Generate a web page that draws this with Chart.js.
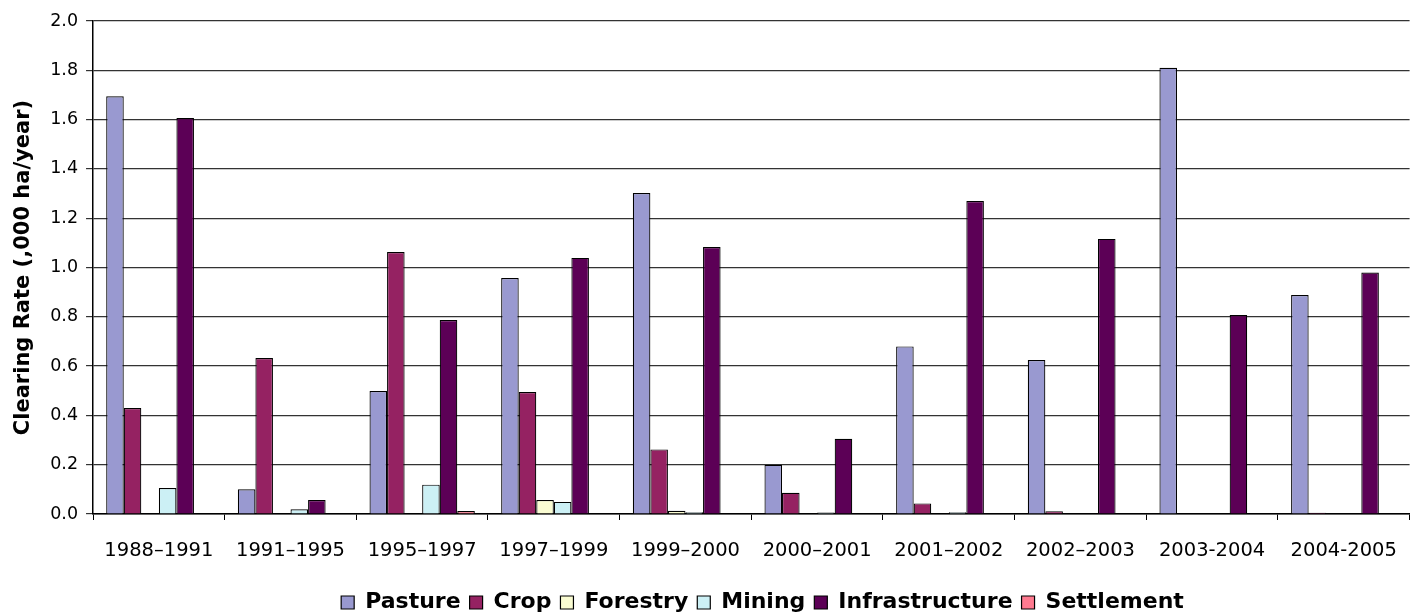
<!DOCTYPE html>
<html>
<head>
<meta charset="utf-8">
<script src="https://cdn.jsdelivr.net/npm/chart.js@4/dist/chart.umd.min.js"></script>
<style>
  html, body { margin: 0; padding: 0; background: #fff; }
  #wrap { width: 1416px; height: 612px; }
</style>
</head>
<body>
<div id="wrap"><canvas id="c"></canvas></div>
<script>
// Land clearing rate by period and land use (,000 ha/year)
const periods = ['1988–1991', '1991–1995', '1995–1997', '1997–1999', '1999–2000',
  '2000–2001', '2001–2002', '2002–2003', '2003-2004', '2004-2005'];

const pasture        = [1.695, 0.100, 0.499, 0.957, 1.302, 0.200, 0.680, 0.625, 1.810, 0.888];
const crop           = [0.430, 0.633, 1.063, 0.495, 0.262, 0.086, 0.043, 0.011, 0, 0.005];
const forestry       = [0, 0, 0, 0.057, 0.013, 0, 0, 0, 0, 0];
const mining         = [0.105, 0.019, 0.119, 0.049, 0.007, 0.006, 0.007, 0, 0, 0];
const infrastructure = [1.606, 0.057, 0.787, 1.039, 1.083, 0.305, 1.270, 1.116, 0.807, 0.980];
const settlement     = [0, 0, 0.012, 0, 0, 0, 0, 0, 0, 0];

const yTicks = [0, 0.2, 0.4, 0.6, 0.8, 1.0, 1.2, 1.4, 1.6, 1.8, 2.0];

// wide sans to match the stretched lettering of the original
const FONT = '"DejaVu Sans", Verdana, sans-serif';

const series = [
  { label: 'Pasture', data: pasture, color: '#9999D0' },
  { label: 'Crop', data: crop, color: '#952262' },
  { label: 'Forestry', data: forestry, color: '#FAFCD2' },
  { label: 'Mining', data: mining, color: '#CCF0F5' },
  { label: 'Infrastructure', data: infrastructure, color: '#5C0056' },
  { label: 'Settlement', data: settlement, color: '#FF7A90' },
];

// legend in the original sits centred under the plot, not the canvas
const shiftLegend = {
  id: 'shiftLegend',
  afterLayout(chart) {
    const lg = chart.legend;
    if (lg) { lg.left += 50; lg.right += 50; }
  },
};

new Chart(document.getElementById('c'), {
  type: 'bar',
  data: {
    labels: periods,
    datasets: series.map(s => ({
      label: s.label, data: s.data, backgroundColor: s.color,
      borderColor: '#000', borderWidth: 1.2, borderSkipped: 'bottom',
      categoryPercentage: 0.8, barPercentage: 1,
    })),
  },
  options: {
    responsive: true, maintainAspectRatio: false, animation: false,
    layout: { padding: { top: 21, right: 2, left: 11, bottom: -11.5 } },
    plugins: {
      tooltip: { enabled: false },
      legend: {
        position: 'bottom',
        labels: {
          color: '#000', boxWidth: 13, boxHeight: 13, padding: 9,
          font: { family: FONT, size: 22, weight: 'bold' },
        },
      },
    },
    scales: {
      x: {
        afterFit: s => { s.height = 68.5; },
        grid: { display: true, drawOnChartArea: false, color: '#000', tickLength: 6, offset: true },
        border: { color: '#000', width: 1.5 },
        ticks: { color: '#000', padding: 19, maxRotation: 0, font: { family: FONT, size: 19.5 } },
      },
      y: {
        min: 0, max: 2.0,
        afterBuildTicks: axis => { axis.ticks = yTicks.map(v => ({ value: v })); },
        grid: { color: '#333', lineWidth: 1.2, tickLength: 7 },
        border: { color: '#000', width: 1.5 },
        ticks: { color: '#000', padding: 8, font: { family: FONT, size: 17.5 }, callback: v => v.toFixed(1) },
        title: { display: true, text: 'Clearing Rate (,000 ha/year)', color: '#000', padding: { top: 0, bottom: 6 },
          font: { family: FONT, size: 21, weight: 'bold' } },
      },
    },
  },
  plugins: [shiftLegend],
});
</script>
</body>
</html>
